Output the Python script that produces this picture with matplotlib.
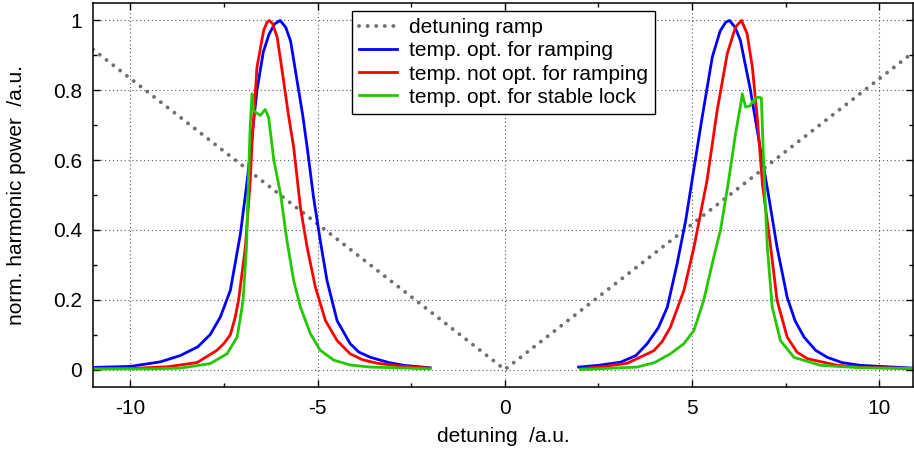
import numpy as np
import matplotlib
matplotlib.use("Agg")
import matplotlib.pyplot as plt
from matplotlib.ticker import MultipleLocator

plt.rcParams['font.family'] = ['Liberation Sans', 'DejaVu Sans']
plt.rcParams['font.size'] = 15

# detuning ramp (V shape)
ramp_x = [-11.0, 0.0, 10.9]
ramp_y = [0.917, 0.0, 0.908]

# temp. opt. for ramping (blue)
blue_left_x = [-11.0, -10.0, -9.2, -8.67, -8.2, -7.87, -7.6, -7.33, -7.06, -6.88, -6.62, -6.45, -6.3,
               -6.15, -6.0, -5.85, -5.72, -5.55, -5.40, -5.28, -5.11, -4.93, -4.75, -4.48, -4.13,
               -3.9, -3.59, -3.1, -2.7, -2.0]
blue_left_y = [0.006, 0.009, 0.022, 0.040, 0.065, 0.10, 0.15, 0.227, 0.39, 0.542, 0.80, 0.91, 0.96,
               0.99, 1.0, 0.98, 0.94, 0.828, 0.73, 0.637, 0.494, 0.37, 0.255, 0.14, 0.074,
               0.05, 0.035, 0.02, 0.012, 0.005]
blue_right_x = [1.97, 2.5, 3.09, 3.5, 3.80, 4.1, 4.34, 4.60, 4.83, 5.0, 5.27, 5.54, 5.75, 5.9, 6.0,
                6.15, 6.29, 6.56, 6.83, 7.02, 7.27, 7.54, 7.75, 7.99, 8.3, 8.61, 9.0, 9.5, 10.9]
blue_right_y = [0.007, 0.012, 0.021, 0.04, 0.074, 0.12, 0.179, 0.303, 0.427, 0.542, 0.723, 0.895,
                0.97, 0.995, 1.0, 0.98, 0.943, 0.80, 0.628, 0.513, 0.35, 0.207, 0.14, 0.093, 0.055,
                0.035, 0.02, 0.012, 0.004]

# temp. not opt. for ramping (red)
red_left_x = [-11.0, -10.0, -9.0, -8.22, -7.69, -7.5, -7.33, -7.2, -7.11, -6.93, -6.80, -6.75, -6.62,
              -6.44, -6.35, -6.29, -6.2, -6.08, -5.91, -5.78, -5.64, -5.46, -5.28, -5.06, -4.79,
              -4.48, -4.13, -3.8, -3.41, -2.8, -2.0]
red_left_y = [0.002, 0.003, 0.008, 0.02, 0.055, 0.075, 0.10, 0.15, 0.20, 0.35, 0.542, 0.65, 0.866,
              0.972, 0.995, 1.0, 0.99, 0.952, 0.828, 0.73, 0.637, 0.465, 0.35, 0.236, 0.14,
              0.083, 0.045, 0.028, 0.018, 0.01, 0.004]
red_right_x = [2.02, 2.6, 3.27, 3.98, 4.2, 4.42, 4.78, 5.05, 5.40, 5.67, 5.94, 6.16, 6.32, 6.47,
               6.61, 6.74, 6.88, 7.10, 7.27, 7.54, 7.8, 8.08, 8.88, 9.6, 10.9]
red_right_y = [0.002, 0.008, 0.018, 0.054, 0.08, 0.121, 0.226, 0.35, 0.542, 0.742, 0.905, 0.981,
               1.0, 0.962, 0.866, 0.723, 0.53, 0.35, 0.198, 0.093, 0.05, 0.031, 0.012, 0.006, 0.003]

# temp. opt. for stable lock (green)
green_left_x = [-11.0, -9.5, -8.67, -7.87, -7.42, -7.15, -7.06, -6.99, -6.90, -6.86, -6.80, -6.75,
                -6.72, -6.66, -6.53, -6.40, -6.31, -6.17, -5.99, -5.82, -5.64, -5.46, -5.19,
                -4.93, -4.57, -4.13, -3.59, -2.0]
green_left_y = [0.002, 0.002, 0.004, 0.017, 0.045, 0.093, 0.15, 0.20, 0.35, 0.50, 0.70, 0.79,
                0.745, 0.737, 0.728, 0.745, 0.723, 0.60, 0.503, 0.37, 0.255, 0.179, 0.102,
                0.055, 0.027, 0.013, 0.007, 0.002]
green_right_x = [2.02, 3.53, 4.0, 4.42, 4.78, 5.05, 5.31, 5.58, 5.76, 5.96, 6.16, 6.30, 6.34, 6.43,
                 6.56, 6.62, 6.65, 6.70, 6.78, 6.85, 6.90, 6.94, 7.01, 7.14, 7.36, 7.72, 8.43,
                 9.5, 10.9]
green_right_y = [0.0, 0.007, 0.02, 0.045, 0.074, 0.112, 0.198, 0.322, 0.40, 0.53, 0.675, 0.76,
                 0.79, 0.752, 0.756, 0.77, 0.765, 0.778, 0.78, 0.778, 0.628, 0.513, 0.35, 0.179,
                 0.083, 0.035, 0.012, 0.005, 0.003]

fig = plt.figure(figsize=(9.14, 4.54), dpi=100)
ax = fig.add_axes([0.1017, 0.1476, 0.8972, 0.8458])

ax.plot(ramp_x, ramp_y, color='#707070', lw=2.8, linestyle=(0, (0.01, 2.2)),
        dash_capstyle='round', label='detuning ramp')
ax.plot(blue_left_x, blue_left_y, color='#0000ff', lw=2.0, label='temp. opt. for ramping')
ax.plot(blue_right_x, blue_right_y, color='#0000ff', lw=2.0)
ax.plot(red_left_x, red_left_y, color='#ff0000', lw=2.0, label='temp. not opt. for ramping')
ax.plot(red_right_x, red_right_y, color='#ff0000', lw=2.0)
ax.plot(green_left_x, green_left_y, color='#22c800', lw=2.0, label='temp. opt. for stable lock')
ax.plot(green_right_x, green_right_y, color='#22c800', lw=2.0)

ax.set_xlim(-11.0, 10.9)
ax.set_ylim(-0.05, 1.05)
ax.xaxis.set_minor_locator(MultipleLocator(2.5))
ax.yaxis.set_minor_locator(MultipleLocator(0.1))
ax.set_xticks([-10, -5, 0, 5, 10])
ax.set_xticklabels(['-10', '-5', '0', '5', '10'])
ax.set_yticks([0, 0.2, 0.4, 0.6, 0.8, 1])
ax.set_yticklabels(['0', '0.2', '0.4', '0.6', '0.8', '1'])
ax.tick_params(which='both', direction='in', top=True, right=True, width=1.0)
ax.tick_params(which='major', length=5)
ax.tick_params(which='minor', length=3)
ax.tick_params(axis='x', pad=9)
ax.tick_params(axis='y', pad=8)
for s in ax.spines.values():
    s.set_linewidth(1.1)

ax.grid(True, which='major', color='0.35', linestyle=(0, (1, 2.5)), lw=0.8)

ax.set_xlabel('detuning  /a.u.', labelpad=6)
ax.set_ylabel('norm. harmonic power  /a.u.', labelpad=19)

leg = ax.legend(loc='upper left', bbox_to_anchor=(0.385, 0.976), bbox_transform=fig.transFigure,
                borderaxespad=0, fancybox=False, framealpha=1, edgecolor='black',
                handlelength=1.8, handletextpad=0.6, labelspacing=0.2, borderpad=0.35)
leg.get_frame().set_linewidth(1.0)

fig.savefig('out.png', dpi=100)
